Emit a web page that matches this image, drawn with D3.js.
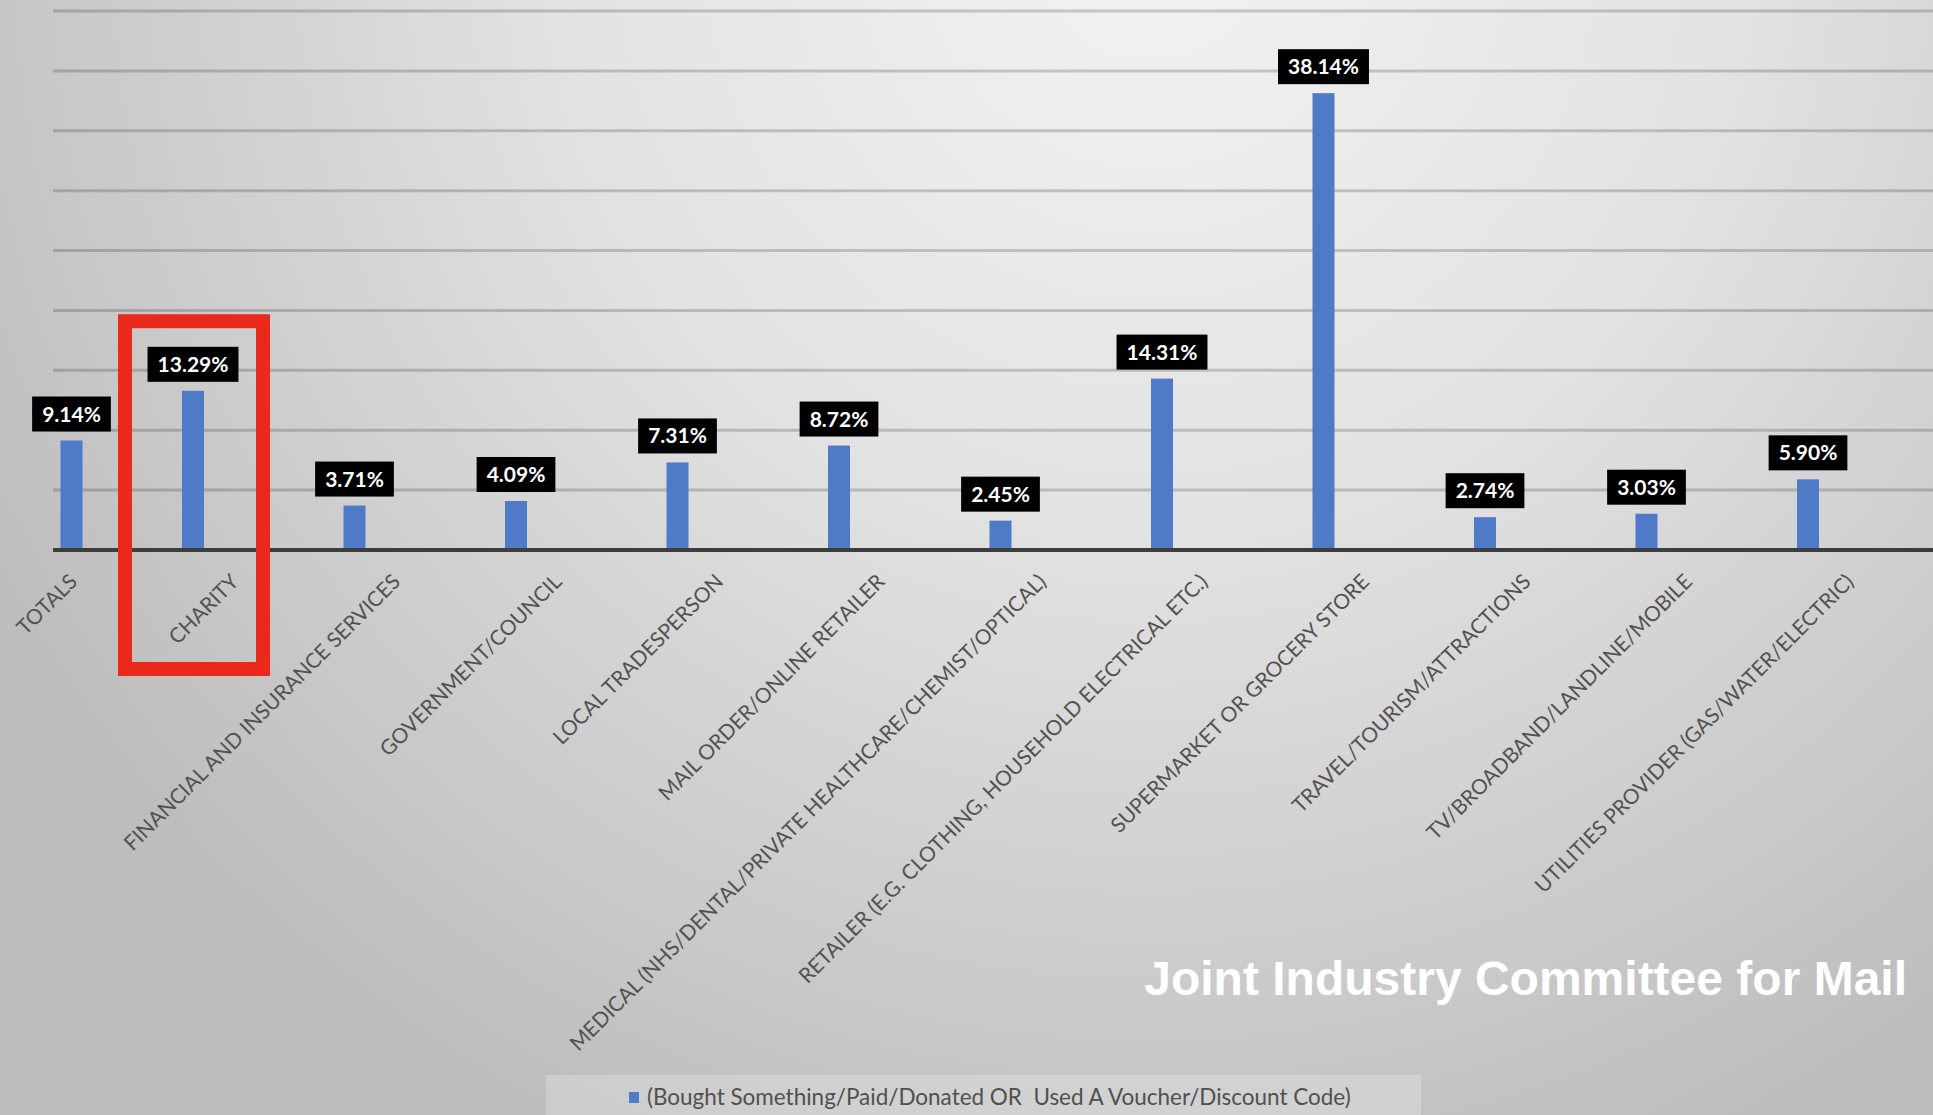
<!DOCTYPE html>
<html>
<head>
<meta charset="utf-8">
<script src="https://cdn.jsdelivr.net/npm/d3@7"></script>
<style>
  html, body { margin: 0; padding: 0; overflow: hidden; }
  svg { display: block; }
</style>
</head>
<body>
<div id="chart"></div>
<script>
// --- Response by sector (share of mail recipients who acted) ---
const categories = [
    "TOTALS",
    "CHARITY",
    "FINANCIAL AND INSURANCE SERVICES",
    "GOVERNMENT/COUNCIL",
    "LOCAL TRADESPERSON",
    "MAIL ORDER/ONLINE RETAILER",
    "MEDICAL (NHS/DENTAL/PRIVATE HEALTHCARE/CHEMIST/OPTICAL)",
    "RETAILER (E.G. CLOTHING, HOUSEHOLD ELECTRICAL ETC.)",
    "SUPERMARKET OR GROCERY STORE",
    "TRAVEL/TOURISM/ATTRACTIONS",
    "TV/BROADBAND/LANDLINE/MOBILE",
    "UTILITIES PROVIDER (GAS/WATER/ELECTRIC)"
];
const values = [9.14, 13.29, 3.71, 4.09, 7.31, 8.72, 2.45, 14.31, 38.14, 2.74, 3.03, 5.90];
const yTicks = [0, 5, 10, 15, 20, 25, 30, 35, 40, 45];
const seriesName = "(Bought Something/Paid/Donated OR  Used A Voucher/Discount Code)";
const highlighted = "CHARITY";
const watermark = "Joint Industry Committee for Mail";

const W = 1933, H = 1115;
const barColor = "#4f7ac7";

const svg = d3.select("#chart")
    .append("svg")
    .attr("width", W)
    .attr("height", H);

// background gradient
const defs = svg.append("defs");
const grad = defs.append("radialGradient")
    .attr("id", "bg")
    .attr("gradientUnits", "userSpaceOnUse")
    .attr("cx", 1150).attr("cy", -60).attr("r", 1320);
grad.append("stop").attr("offset", 0).attr("stop-color", "#f3f3f3");
grad.append("stop").attr("offset", 0.45).attr("stop-color", "#e2e2e2");
grad.append("stop").attr("offset", 1).attr("stop-color", "#bdbdbd");
svg.append("rect").attr("width", W).attr("height", H).attr("fill", "url(#bg)");

const plotLeft = 53, baseY = 550;

const x = d3.scalePoint()
    .domain(categories)
    .range([31.5, 1808]);
const totalsShift = 40; // totals bar sits right of its label slot
const barX = d => x(d) + (d === "TOTALS" ? totalsShift : 0);

const y = d3.scaleLinear()
    .domain([0, 45])
    .range([baseY, 11]);

// gridlines
svg.append("g")
    .selectAll("line")
    .data(yTicks.filter(t => t > 0))
    .enter()
    .append("line")
    .attr("x1", plotLeft)
    .attr("x2", W)
    .attr("y1", d => y(d))
    .attr("y2", d => y(d))
    .attr("stroke", "#000")
    .attr("stroke-opacity", 0.18)
    .attr("stroke-width", 3);

const data = categories.map((c, i) => ({ cat: c, value: values[i] }));
const barW = 22;

svg.append("g")
    .selectAll("rect")
    .data(data)
    .enter()
    .append("rect")
    .attr("x", d => barX(d.cat) - barW / 2)
    .attr("y", d => y(d.value))
    .attr("width", barW)
    .attr("height", d => baseY - y(d.value))
    .attr("fill", barColor);

// baseline
svg.append("line")
    .attr("x1", plotLeft).attr("x2", W)
    .attr("y1", baseY).attr("y2", baseY)
    .attr("stroke", "#3d3d3d")
    .attr("stroke-width", 4);

// value labels: white bold text on black boxes
const lab = svg.append("g")
    .selectAll("g")
    .data(data)
    .enter()
    .append("g")
    .attr("transform", d => `translate(${barX(d.cat)},${y(d.value) - 9})`);

lab.append("rect").attr("fill", "#000");
lab.append("text")
    .attr("text-anchor", "middle")
    .attr("y", -10)
    .attr("fill", "#fff")
    .style("font-family", "Lato, 'Open Sans', sans-serif")
    .style("font-weight", 700)
    .style("font-size", "21px")
    .text(d => d.value.toFixed(2) + "%");
lab.each(function () {
    const g = d3.select(this);
    const w = g.select("text").node().getComputedTextLength();
    g.select("rect")
        .attr("x", -w / 2 - 10)
        .attr("y", -35)
        .attr("width", w + 20)
        .attr("height", 35);
});

// category labels
svg.append("g")
    .selectAll("text")
    .data(categories)
    .enter()
    .append("text")
    .attr("transform", d => `translate(${x(d) + 47},${baseY + 33}) rotate(-45)`)
    .attr("text-anchor", "end")
    .attr("fill", "#525252")
    .style("font-family", "Lato, 'Open Sans', sans-serif")
    .style("font-size", "20.9px")
    .text(d => d);

// highlight box round the charity column
const hx = x(highlighted);
svg.append("rect")
    .attr("x", hx - 68)
    .attr("y", y(19.1))
    .attr("width", 138)
    .attr("height", 669 - y(19.1))
    .attr("fill", "none")
    .attr("stroke", "#e8291b")
    .attr("stroke-width", 14);

// legend
svg.append("rect")
    .attr("x", 546).attr("y", 1075)
    .attr("width", 875).attr("height", 45)
    .attr("fill", "#fff")
    .attr("fill-opacity", 0.22);
svg.append("rect")
    .attr("x", 629).attr("y", 1092)
    .attr("width", 10).attr("height", 11)
    .attr("fill", barColor);
const legText = svg.append("text")
    .attr("x", 647).attr("y", 1105)
    .attr("fill", "#505050")
    .style("font-family", "Lato, 'Open Sans', sans-serif")
    .style("font-size", "20px")
    .style("white-space", "pre")
    .text(seriesName);
const lw = legText.node().getComputedTextLength();
legText.style("font-size", (20 * 704 / lw).toFixed(2) + "px");

// watermark
svg.append("text")
    .attr("x", 1907).attr("y", 995)
    .attr("text-anchor", "end")
    .attr("fill", "#fff")
    .style("font-family", "'Liberation Sans', Arial, sans-serif")
    .style("font-weight", 700)
    .style("font-size", "48px")
    .text(watermark);
</script>
</body>
</html>
